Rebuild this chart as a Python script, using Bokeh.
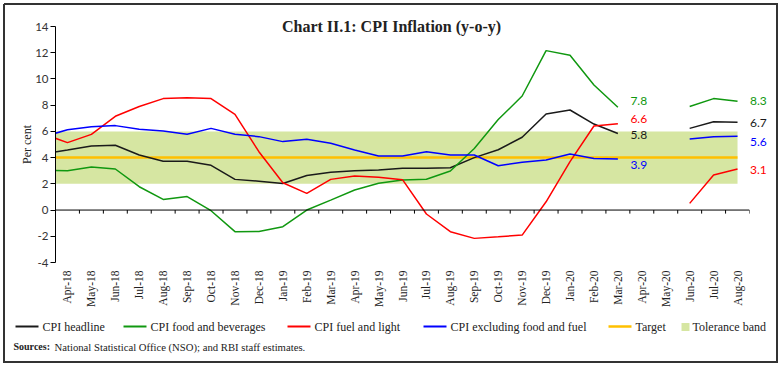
import numpy as np
from bokeh.plotting import figure
from bokeh.models import ColumnDataSource, FixedTicker, Span
from bokeh.embed import file_html
from bokeh.resources import INLINE
from bokeh.core.properties import value

nan = float("nan")

# ---------------- data ----------------
months = ["Mar-18",
          "Apr-18", "May-18", "Jun-18", "Jul-18", "Aug-18", "Sep-18", "Oct-18", "Nov-18", "Dec-18",
          "Jan-19", "Feb-19", "Mar-19", "Apr-19", "May-19", "Jun-19", "Jul-19", "Aug-19", "Sep-19",
          "Oct-19", "Nov-19", "Dec-19", "Jan-20", "Feb-20", "Mar-20", "Apr-20", "May-20", "Jun-20",
          "Jul-20", "Aug-20"]

cpi_headline = [4.28, 4.58, 4.89, 4.94, 4.20, 3.72, 3.72, 3.41, 2.34, 2.20,
                2.02, 2.63, 2.88, 3.00, 3.05, 3.18, 3.18, 3.23, 4.00, 4.60,
                5.55, 7.33, 7.63, 6.56, 5.84, nan, nan, 6.23, 6.74, 6.69]
cpi_food = [3.05, 3.00, 3.28, 3.13, 1.78, 0.81, 1.03, -0.05, -1.65, -1.63,
            -1.27, 0.00, 0.76, 1.53, 2.04, 2.30, 2.35, 2.98, 4.70, 6.90,
            8.70, 12.16, 11.80, 9.54, 7.84, nan, nan, 7.90, 8.50, 8.30]
cpi_fuel = [5.80, 5.14, 5.77, 7.15, 7.90, 8.50, 8.57, 8.50, 7.30, 4.45,
            2.08, 1.27, 2.34, 2.60, 2.50, 2.32, -0.30, -1.65, -2.16, -2.04,
            -1.91, 0.63, 3.70, 6.41, 6.59, nan, nan, 0.51, 2.67, 3.13]
cpi_core = [5.60, 6.12, 6.36, 6.44, 6.16, 6.03, 5.78, 6.23, 5.78, 5.60,
            5.22, 5.40, 5.10, 4.58, 4.12, 4.12, 4.45, 4.20, 4.20, 3.38,
            3.65, 3.82, 4.27, 3.94, 3.90, nan, nan, 5.42, 5.60, 5.62]
target = [4.0] * 30
band_low = [2.0] * 30
band_high = [6.0] * 30

y_ticks = [-4, -2, 0, 2, 4, 6, 8, 10, 12, 14]

series_names = ["CPI headline", "CPI food and beverages", "CPI fuel and light",
                "CPI excluding food and fuel"]
series_values = [cpi_headline, cpi_food, cpi_fuel, cpi_core]

title_text = "Chart II.1: CPI Inflation (y-o-y)"
source_head = "Sources:"
source_text = "National Statistical Office (NSO); and RBI staff estimates."

# ---------------- styles / layout ----------------
colors = ["#1a1a1a", "#109810", "#ff0000", "#0000ff"]
target_color = "#ffc000"
band_color = "#d6e6a2"
serif = "Liberation Serif"
sans = "Lato"
label_dy = {"CPI headline": (2, 1), "CPI food and beverages": (-6, 0),
            "CPI fuel and light": (-5, 1), "CPI excluding food and fuel": (6, 6)}

W, H = 781, 366
FL, FR, FT, FB = 55, 749, 26, 262          # frame edges in canvas pixels
legend_px = [15, 123, 287, 423, 608]        # left edge of each line swatch
band_swatch_px = 681                        # left edge of the band swatch
legend_py = 326
source_py = 346

x = np.arange(len(months))
x0, x1 = 0.5, len(months) - 0.5
y0, y1 = -4, 14


def px_x(px):
    return x0 + (px - FL) * (x1 - x0) / (FR - FL)


def px_y(py):
    return y1 - (py - FT) * (y1 - y0) / (FB - FT)


p = figure(width=W, height=H, x_range=(x0, x1), y_range=(y0, y1),
           output_backend="svg", toolbar_location=None,
           min_border_left=FL, min_border_right=W - FR, min_border_top=FT,
           min_border_bottom=H - FB)
p.outline_line_color = None
p.xgrid.visible = False
p.ygrid.visible = False

# tolerance band and target
band = p.varea(x=x, y1=band_low, y2=band_high, fill_color=band_color)
tgt = p.line(x, target, line_color=target_color, line_width=2.5)

# zero axis line with boundary ticks
p.add_layout(Span(location=0, dimension="width", line_color="black", line_width=1))
bounds = np.arange(1, len(months) + 1) - 0.5
p.segment(x0=bounds, y0=[0] * len(bounds), x1=bounds, y1=[-0.27] * len(bounds),
          line_color="black", line_width=1)

renderers = []
for name, vals, col in zip(series_names, series_values, colors):
    r = p.line(x, vals, line_color=col, line_width=1.5)
    renderers.append(r)

# value labels at end of each segment
lx, ly, lt, lc, ldy = [], [], [], [], []
for name, vals, col in zip(series_names, series_values, colors):
    for k, idx in enumerate([months.index("Mar-20"), months.index("Aug-20")]):
        lx.append(x[idx]); ly.append(vals[idx]); lt.append(f"{vals[idx]:.1f}")
        lc.append(col); ldy.append(label_dy[name][k])
lsrc = ColumnDataSource(dict(x=lx, y=ly, text=lt, color=lc, dy=ldy))
p.text(x="x", y="y", text="text", source=lsrc, text_color="color", x_offset=12.5,
       y_offset="dy", text_align="left", text_baseline="middle",
       text_font=value(sans), text_font_size="12px", level="overlay")

# axes
p.yaxis.ticker = FixedTicker(ticks=y_ticks)
p.yaxis.major_label_overrides = {t: str(t) for t in y_ticks}
p.yaxis.axis_line_color = "black"
p.yaxis.major_tick_line_color = "black"
p.yaxis.major_tick_out = 5
p.yaxis.major_tick_in = 0
p.yaxis.minor_tick_line_color = None
p.yaxis.major_label_standoff = 2
p.yaxis.major_label_text_font = sans
p.yaxis.major_label_text_font_size = "11.5px"
p.yaxis.major_label_text_color = "#333333"
p.yaxis.axis_label = "Per cent"
p.yaxis.axis_label_text_font = serif
p.yaxis.axis_label_text_font_style = "normal"
p.yaxis.axis_label_text_font_size = "12px"
p.yaxis.axis_label_text_color = "#222222"
p.yaxis.axis_label_standoff = -2

p.xaxis.ticker = FixedTicker(ticks=list(x[1:]))
p.xaxis.major_label_overrides = {int(i): months[i] for i in x[1:]}
p.xaxis.major_label_orientation = np.pi / 2
p.xaxis.axis_line_color = None
p.xaxis.major_tick_line_color = None
p.xaxis.minor_tick_line_color = None
p.xaxis.major_tick_out = 0
p.xaxis.major_label_standoff = 8
p.xaxis.major_label_text_font = serif
p.xaxis.major_label_text_font_size = "11.5px"
p.xaxis.major_label_text_color = "#222222"

# ---- overlay-level elements (drawn outside the frame) ----
# title
p.text(x=[(x0 + x1) / 2], y=[y1], text=[title_text], x_offset=-11, text_align="center",
       text_baseline="middle", text_font=value(serif), text_font_style="bold",
       text_font_size="16px", text_color="#222222", level="overlay")
# source note
p.text(x=[x0], y=[y0], text=[source_head], x_offset=13 - FL, y_offset=source_py - FB,
       text_align="left", text_baseline="middle", text_font=value(serif),
       text_font_style="bold", text_font_size="10px", text_color="#222222", level="overlay")
p.text(x=[x0], y=[y0], text=[source_text], x_offset=54 - FL, y_offset=source_py - FB,
       text_align="left", text_baseline="middle", text_font=value(serif),
       text_font_size="10.7px", text_color="#222222", level="overlay")

# legend
leg_names = series_names + ["Target"]
leg_colors = colors + [target_color]
leg_widths = [2, 2, 2, 2, 2.5]
for lp, col, lw in zip(legend_px, leg_colors, leg_widths):
    p.line(x=[px_x(lp), px_x(lp + 23)], y=[px_y(legend_py)] * 2, line_color=col,
           line_width=lw, level="overlay")
p.text(x=[x0] * len(legend_px), y=[y0] * len(legend_px), text=leg_names,
       x_offset=[v + 27 - FL for v in legend_px], y_offset=legend_py - FB,
       text_align="left", text_baseline="middle", text_font=value(serif),
       text_font_size="12px", text_color="#222222", level="overlay")
p.line(x=[px_x(band_swatch_px), px_x(band_swatch_px + 8)], y=[px_y(legend_py + 0.5)] * 2,
       line_color=band_color, line_width=8, line_cap="butt", level="overlay")
p.text(x=[x0], y=[y0], text=["Tolerance band"], x_offset=band_swatch_px + 11 - FL,
       y_offset=legend_py - FB, text_align="left", text_baseline="middle",
       text_font=value(serif), text_font_size="12px", text_color="#222222",
       level="overlay")

# outer border of the chart
bx = [3.5, W - 4.5, W - 4.5, 3.5, 3.5]
by = [3.5, 3.5, H - 4.5, H - 4.5, 3.5]
p.line(x=[px_x(v) for v in bx], y=[px_y(v) for v in by], line_color="#333333",
       line_width=2, line_join="miter", level="overlay")

open("out.html", "w").write(file_html(p, INLINE))
